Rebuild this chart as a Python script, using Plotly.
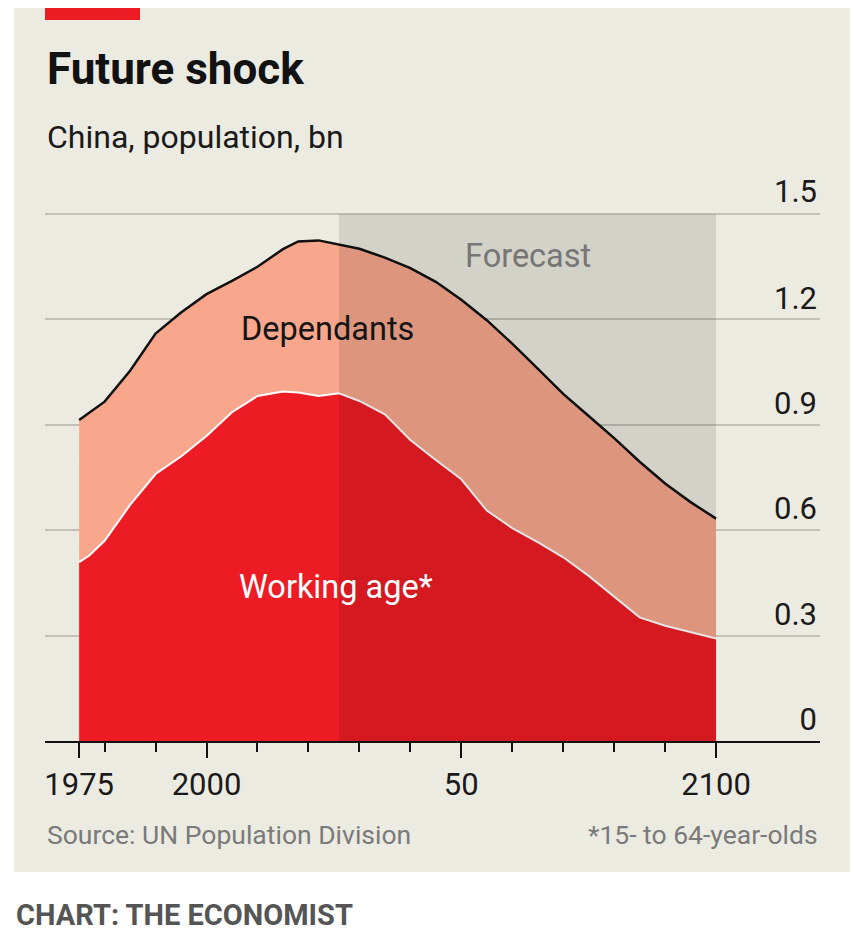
import plotly.graph_objects as go

# China population, bn (UN Population Division)
years = [1975, 1977, 1980, 1985, 1990, 1995, 2000, 2005, 2010, 2015, 2018, 2022,
         2026, 2030, 2035, 2040, 2045, 2050, 2055, 2060, 2065, 2070, 2075, 2080,
         2085, 2090, 2095, 2100]
total = [0.914, 0.935, 0.966, 1.054, 1.160, 1.220, 1.272, 1.310, 1.350, 1.400, 1.422, 1.425,
         1.413, 1.401, 1.376, 1.346, 1.307, 1.256, 1.198, 1.131, 1.060, 0.988, 0.925, 0.862,
         0.795, 0.733, 0.680, 0.633]
working_age = [0.509, 0.528, 0.570, 0.672, 0.760, 0.810, 0.868, 0.936, 0.982, 0.995, 0.992, 0.982,
               0.990, 0.968, 0.930, 0.857, 0.800, 0.745, 0.656, 0.606, 0.566, 0.523, 0.470, 0.410,
               0.352, 0.328, 0.310, 0.292]

forecast_start = 2026
forecast_end = 2100

x_major = [1975, 2000, 2050, 2100]
x_major_labels = ["1975", "2000", "50", "2100"]
x_minor = [1980, 1990, 2010, 2020, 2030, 2040, 2060, 2070, 2080, 2090]
y_ticks = [0, 0.3, 0.6, 0.9, 1.2, 1.5]
y_labels = ["0", "0.3", "0.6", "0.9", "1.2", "1.5"]

BEIGE = "#ecebe1"
RED = "#ed1c24"
SALMON = "#f8a78d"
FONT = "Roboto"

fig = go.Figure()
fig.add_trace(go.Scatter(
    x=years, y=working_age, mode="lines", fill="tozeroy",
    fillcolor=RED, line=dict(color="white", width=2), name="Working age*",
    hoverinfo="skip",
))
fig.add_trace(go.Scatter(
    x=years, y=total, mode="lines", fill="tonexty",
    fillcolor=SALMON, line=dict(color="#111111", width=2.5), name="Total",
    hoverinfo="skip",
))

# forecast shading darkens everything under it
fig.add_shape(type="rect", xref="x", yref="y", x0=forecast_start, x1=forecast_end,
              y0=0, y1=1.5, fillcolor="rgba(0,0,0,0.105)", line_width=0, layer="above")

# beige panel + red tag
fig.add_shape(type="rect", xref="paper", yref="paper", x0=-0.04, x1=1.06,
              y0=-0.248, y1=1.39, fillcolor=BEIGE, line_width=0, layer="below")
fig.add_shape(type="rect", xref="paper", yref="paper", x0=0, x1=0.1226,
              y0=1.3655, y1=1.39, fillcolor=RED, line_width=0, layer="below")

anns = [
    dict(text="<b>Future shock</b>", x=0, y=1.272, size=44, color="#121212", anchor="left"),
    dict(text="China, population, bn", x=0, y=1.143, size=32, color="#1a1a1a", anchor="left"),
    dict(text="Source: UN Population Division", x=0, y=-0.178, size=26.5, color="#7a7a7a", anchor="left"),
    dict(text="*15- to 64-year-olds", x=1.0, y=-0.178, size=26.5, color="#7a7a7a", anchor="right"),
    dict(text="<b>CHART: THE ECONOMIST</b>", x=-0.04, y=-0.330, size=29, color="#555555", anchor="left"),
]
for a in anns:
    fig.add_annotation(text=a["text"], xref="paper", yref="paper", x=a["x"], y=a["y"],
                       xanchor=a["anchor"], yanchor="middle", showarrow=False,
                       font=dict(family=FONT, size=a["size"], color=a["color"]))

labels = [("Forecast", 2063, 1.381, "#767676"),
          ("Dependants", 2023.8, 1.173, "#151515"),
          ("Working age*", 2025.4, 0.437, "white")]
for txt, lx, ly, col in labels:
    fig.add_annotation(text=txt, x=lx, y=ly, xref="x", yref="y", showarrow=False,
                       xanchor="center", yanchor="middle",
                       font=dict(family=FONT, size=32.5, color=col))

# top tick label sits above the plot area, where inside labels get hidden
fig.add_annotation(text=y_labels[-1], x=1, y=y_ticks[-1], xref="paper", yref="y",
                   xanchor="right", yanchor="bottom", showarrow=False, xshift=-1, yshift=2,
                   font=dict(family=FONT, size=31, color="#1a1a1a"))

fig.update_xaxes(
    range=[1968.3, 2120.4], tickmode="array", tickvals=x_major, ticktext=x_major_labels,
    ticks="outside", ticklen=15, tickwidth=2, tickcolor="#111111",
    showline=True, linecolor="#111111", linewidth=2, showgrid=False, zeroline=False,
    tickfont=dict(family=FONT, size=31, color="#1a1a1a"),
    minor=dict(tickmode="array", tickvals=x_minor, ticks="outside", ticklen=9,
               tickwidth=2, tickcolor="#111111", showgrid=False),
    fixedrange=True,
)
fig.update_yaxes(
    range=[0, 1.503], side="right", tickmode="array", tickvals=y_ticks, ticktext=y_labels,
    ticklabelposition="inside top", ticks="", showgrid=True, gridcolor="#c2c1b8",
    gridwidth=2, zeroline=False, showline=False,
    tickfont=dict(family=FONT, size=31, color="#1a1a1a"),
    fixedrange=True,
)

# page body adds an 8px margin, so the figure is 8px smaller than the window
fig.update_layout(
    width=850, height=938,
    margin=dict(l=37, r=38, t=205, b=205),
    paper_bgcolor="white", plot_bgcolor=BEIGE,
    showlegend=False,
)

fig.write_html("out.html", config={"displayModeBar": False})
